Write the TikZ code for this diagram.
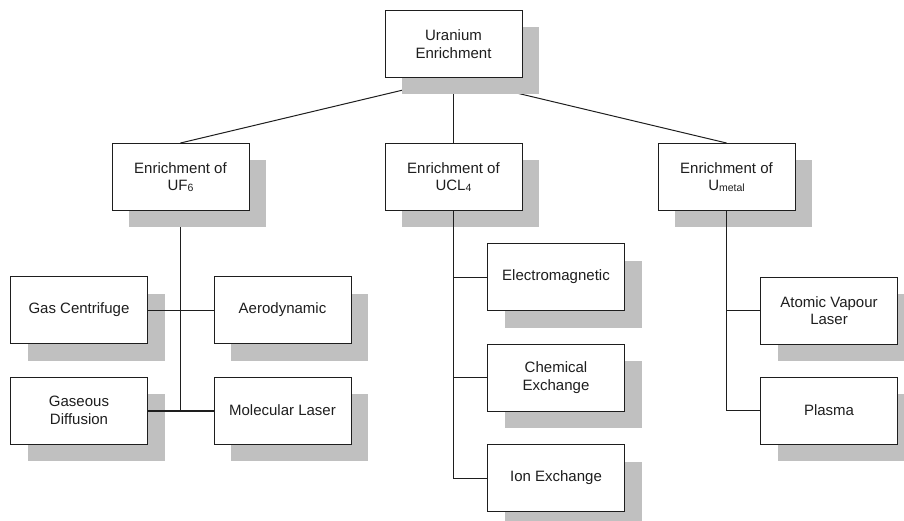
\documentclass[tikz,border=0pt]{standalone}
\usepackage{fontspec}
\setmainfont{Liberation Sans}
\usetikzlibrary{shadows,calc}
\definecolor{shadowgray}{HTML}{C0C0C0}
\definecolor{ink}{HTML}{1E1E1E}
\pgfdeclarelayer{under}
\pgfsetlayers{under,main}
\newcommand{\smallsub}[1]{\raisebox{-1.2pt}{\fontsize{10.5}{10.5}\selectfont #1}}
\tikzset{
  box/.style={draw=ink, line width=1pt, fill=white, minimum width=137pt, minimum height=67pt,
    inner sep=0pt, align=center, text=ink, font=\fontsize{15}{17.5}\selectfont,
    drop shadow={shadow xshift=17pt, shadow yshift=-17pt, fill=shadowgray, opacity=1}},
  link/.style={draw=ink, line width=1pt},
  thicklink/.style={draw=ink, line width=2pt}
}
\begin{document}
\begin{tikzpicture}[x=1pt,y=-1pt]
\useasboundingbox (0,0) rectangle (904,521);
% nodes
\node[box] (top) at (453.5,44) {Uranium\\Enrichment};
\node[box] (uf) at (180.5,177) {Enrichment of\\UF\smallsub{6}};
\node[box] (ucl) at (453.5,177) {Enrichment of\\UCL\smallsub{4}};
\node[box] (umet) at (726.5,177) {Enrichment of\\U\smallsub{metal}};
\node[box] (gc) at (79,310) {Gas Centrifuge};
\node[box] (aero) at (282.5,310) {Aerodynamic};
\node[box] (gd) at (79,410.5) {Gaseous\\Diffusion};
\node[box] (ml) at (282.5,410.5) {Molecular Laser};
\node[box] (em) at (556,277) {Electromagnetic};
\node[box] (chem) at (556,377.5) {Chemical\\Exchange};
\node[box] (ion) at (556,478) {Ion Exchange};
\node[box] (avl) at (829,310.5) {Atomic Vapour\\Laser};
\node[box] (plasma) at (829,410.5) {Plasma};
% connectors under shadows
\begin{pgfonlayer}{under}
\draw[link] (top.south) -- (uf.north);
\draw[link] (top.south) -- (ucl.north);
\draw[link] (top.south) -- (umet.north);
\coordinate (ufend) at (uf.south |- gd.east);
\draw[link] (uf.south) -- (ufend);
\end{pgfonlayer}
% connectors over shadows
\draw[link] (gc.east) -- (aero.west);
\draw[thicklink] (gd.east) -- (ml.west);
\draw[link] (ucl.south) |- (em.west);
\draw[link] (ucl.south) |- (chem.west);
\draw[link] (ucl.south) |- (ion.west);
\draw[link] (umet.south) |- (avl.west);
\draw[link] (umet.south) |- (plasma.west);
\end{tikzpicture}
\end{document}
